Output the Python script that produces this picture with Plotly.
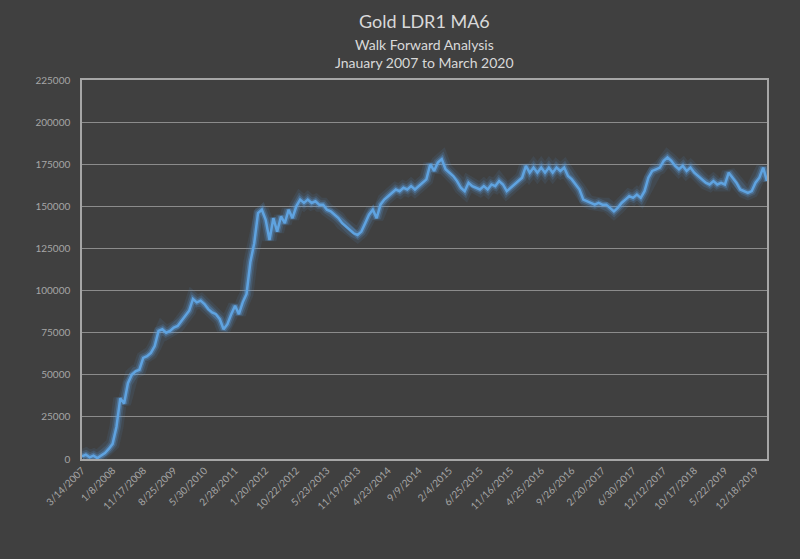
import plotly.graph_objects as go

# Equity values (thousands of $), one per trade step
equity_k = [
    1.5, 2.5, 1, 2, 0.5, 2, 3.5, 6, 9, 19,
    36, 33, 45, 50, 52, 53, 60, 61, 63, 67,
    76, 77, 75, 76, 78, 79, 82, 85, 88, 95,
    93, 94, 92, 89, 87, 86, 83, 77, 80, 86,
    91, 86, 93, 98, 117, 128, 146, 148, 142, 130,
    143, 135, 144, 140, 148, 143, 150, 154, 152, 154,
    152, 153, 151, 151, 148, 147, 145, 143, 140, 138,
    136, 134, 133, 135, 140, 145, 148, 143, 151, 154,
    156, 158, 160, 159, 161, 160, 162, 160, 162, 164,
    166, 175, 171, 176, 178, 172, 170, 168, 165, 161,
    159, 164, 162, 161, 160, 162, 160, 163, 162, 165,
    163, 159, 161, 163, 165, 167, 174, 170, 173, 170,
    173, 170, 173, 170, 173, 171, 173, 168, 166, 163,
    160, 154, 153, 152, 151, 152, 151, 151, 149, 147,
    149, 152, 154, 156, 155, 157, 155, 159, 167, 171,
    172, 173, 177, 179, 177, 174, 172, 174, 171, 173,
    170, 168, 166, 164, 163, 165, 163, 164, 163, 170,
    167, 164, 160, 159, 158, 159, 164, 167, 173, 165,
]
equity = [v * 1000 for v in equity_k]
steps = list(range(len(equity)))

tick_labels = [
    "3/14/2007", "1/8/2008", "11/17/2008", "8/25/2009", "5/30/2010",
    "2/28/2011", "1/20/2012", "10/22/2012", "5/23/2013", "11/19/2013",
    "4/23/2014", "9/9/2014", "2/4/2015", "6/25/2015", "11/16/2015",
    "4/25/2016", "9/26/2016", "2/20/2017", "6/30/2017", "12/12/2017",
    "10/17/2018", "5/22/2019", "12/18/2019",
]
tick_step = 8
tick_positions = [i * tick_step for i in range(len(tick_labels))]

y_ticks = list(range(0, 225001, 25000))

bg = "#404040"
font_family = "Lato, 'Open Sans', sans-serif"

fig = go.Figure()
# glow layers
for w, a in [(14, 0.10), (9, 0.18), (5.5, 0.35)]:
    fig.add_trace(go.Scatter(
        x=steps, y=equity, mode="lines",
        line=dict(color=f"rgba(91,160,225,{a})", width=w, shape="linear"),
        hoverinfo="skip", showlegend=False,
    ))
fig.add_trace(go.Scatter(
    x=steps, y=equity, mode="lines",
    line=dict(color="#5fa3e0", width=2.5),
    showlegend=False, name="Equity",
))

fig.update_layout(
    width=800, height=559,
    paper_bgcolor=bg, plot_bgcolor=bg,
    margin=dict(l=82, r=33, t=80, b=100),
    font=dict(family=font_family, color="#b0b0b0", size=10),
    annotations=[
        dict(text="Gold LDR1 MA6", x=0.5, y=21, xref="paper", yref="paper",
             showarrow=False, font=dict(size=18, color="#d9d9d9", family=font_family)),
        dict(text="Walk Forward Analysis", x=0.5, y=44, xref="paper", yref="paper",
             showarrow=False, font=dict(size=14, color="#d9d9d9", family=font_family)),
        dict(text="Jnauary 2007 to March 2020", x=0.5, y=62, xref="paper", yref="paper",
             showarrow=False, font=dict(size=14, color="#d9d9d9", family=font_family)),
    ],
)
# convert annotation y from pixel to paper coords
plot_h = 559 - 80 - 100
for ann in fig.layout.annotations:
    py = ann.y
    ann.y = (559 - 100 - py) / plot_h
    ann.yanchor = "middle"

fig.update_xaxes(
    range=[0, len(equity) - 1],
    tickmode="array", tickvals=tick_positions, ticktext=tick_labels,
    tickangle=-45, tickfont=dict(size=10, color="#a6a6a6"),
    showgrid=False, zeroline=False,
    showline=True, mirror=True, linecolor="#a6a6a6", linewidth=1.5,
    ticks="",
)
fig.update_yaxes(
    range=[0, 225000], tickmode="array", tickvals=y_ticks,
    ticktext=[str(v) for v in y_ticks],
    tickfont=dict(size=10, color="#a6a6a6"),
    showgrid=True, gridcolor="#8c8c8c", gridwidth=1,
    zeroline=False,
    showline=True, mirror=True, linecolor="#a6a6a6", linewidth=1.5,
    ticks="", ticklen=0, ticklabelstandoff=8,
)

fig.write_html("out.html")
